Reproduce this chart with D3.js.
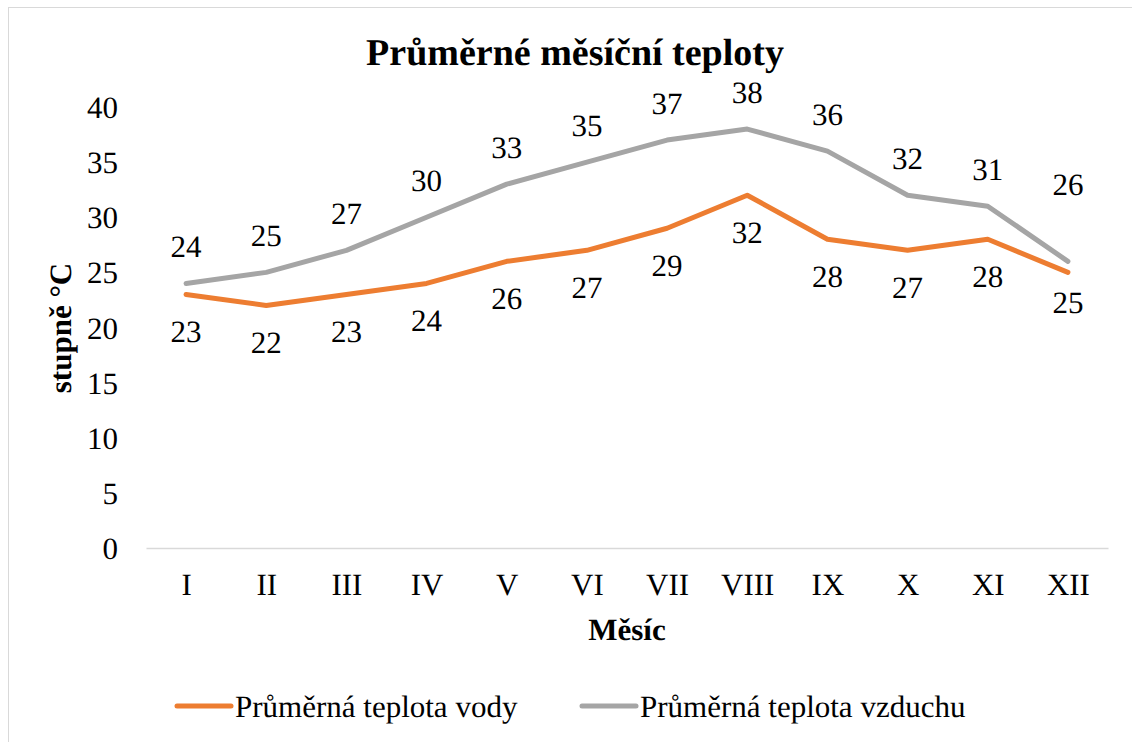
<!DOCTYPE html>
<html>
<head>
<meta charset="utf-8">
<script src="https://cdn.jsdelivr.net/npm/d3@7"></script>
<style>
body { margin: 0; background: #fff; }
svg text { text-rendering: geometricPrecision; }
</style>
</head>
<body>
<div id="main_div"></div>
<script>
var months = ["I", "II", "III", "IV", "V", "VI", "VII", "VIII", "IX", "X", "XI", "XII"];
var voda = [23, 22, 23, 24, 26, 27, 29, 32, 28, 27, 28, 25];
var vzduch = [24, 25, 27, 30, 33, 35, 37, 38, 36, 32, 31, 26];
var y_ticks = [0, 5, 10, 15, 20, 25, 30, 35, 40];

var series = [
    {name: "Průměrná teplota vody", values: voda, color: "#ED7D31", pos: "below"},
    {name: "Průměrná teplota vzduchu", values: vzduch, color: "#A5A5A5", pos: "above"}
];

var FONT = "'Liberation Serif', 'Times New Roman', serif";

var x_scale = d3.scalePoint().domain(months).range([146, 1108]).padding(0.5);
var y_scale = d3.scaleLinear().domain([0, 40]).range([548, 107]);

var svg = d3.select("#main_div").append("svg").attr("width", 1132).attr("height", 742)
    .style("font-family", FONT);

svg.append("rect").attr("x", 8.5).attr("y", 7.5).attr("width", 1140).attr("height", 760)
    .attr("fill", "#fff").attr("stroke", "#d9d9d9").attr("stroke-width", 1);

// title
svg.append("text").attr("x", 575).attr("y", 65).attr("text-anchor", "middle")
    .style("font-family", FONT).style("font-size", "38px").style("font-weight", "bold")
    .text("Průměrné měsíční teploty");

// y axis (labels only)
var g_y = svg.append("g").attr("transform", "translate(146,0)")
    .call(d3.axisLeft(y_scale).tickValues(y_ticks).tickSize(0).tickPadding(28));
g_y.attr("font-family", null).attr("font-size", null);
g_y.select(".domain").remove();
g_y.selectAll("text").style("font-family", FONT).style("font-size", "31px")
    .attr("dy", "0.34em").attr("fill", "#000");

// x axis
var g_x = svg.append("g").attr("transform", "translate(0,548)")
    .call(d3.axisBottom(x_scale).tickSize(0).tickSizeOuter(0).tickPadding(25));
g_x.attr("font-family", null).attr("font-size", null);
g_x.select(".domain").attr("stroke", "#d9d9d9").attr("stroke-width", 1.3);
g_x.selectAll("text").style("font-family", FONT).style("font-size", "31px").attr("fill", "#000");

// axis titles
svg.append("text").attr("transform", "translate(71,328) rotate(-90)").attr("text-anchor", "middle")
    .style("font-family", FONT).style("font-size", "31px").style("font-weight", "bold").text("stupně °C");
svg.append("text").attr("x", 627).attr("y", 640).attr("text-anchor", "middle")
    .style("font-family", FONT).style("font-size", "31px").style("font-weight", "bold").text("Měsíc");

var line = d3.line()
    .x(function(d, i) { return x_scale(months[i]); })
    .y(function(d) { return y_scale(d); });

series.slice().reverse().forEach(function(s) {
    svg.append("path").datum(s.values).attr("d", line)
        .attr("fill", "none").attr("stroke", s.color).attr("stroke-width", 5)
        .attr("stroke-linecap", "round").attr("stroke-linejoin", "round");
});

// data labels (air above the line, water below; the December pair is pushed apart)
series.forEach(function(s) {
    svg.append("g").selectAll("text").data(s.values).enter().append("text")
        .attr("x", function(d, i) { return x_scale(months[i]); })
        .attr("y", function(d, i) {
            var last = i == s.values.length - 1;
            if (s.pos == "above") return y_scale(d) - (last ? 66 : 26);
            return y_scale(d) + (last ? 41 : 48);
        })
        .attr("text-anchor", "middle")
        .style("font-family", FONT).style("font-size", "31px").attr("fill", "#000")
        .text(function(d) { return d; });
});

// legend
var leg_x = [177, 582];
series.forEach(function(s, i) {
    var g = svg.append("g").attr("transform", "translate(" + leg_x[i] + ",706)");
    g.append("line").attr("x1", 0).attr("x2", 54).attr("y1", 0).attr("y2", 0)
        .attr("stroke", s.color).attr("stroke-width", 5).attr("stroke-linecap", "round");
    g.append("text").attr("x", 58).attr("y", 11)
        .style("font-family", FONT).style("font-size", "31px").attr("fill", "#000").text(s.name);
});
</script>
</body>
</html>
